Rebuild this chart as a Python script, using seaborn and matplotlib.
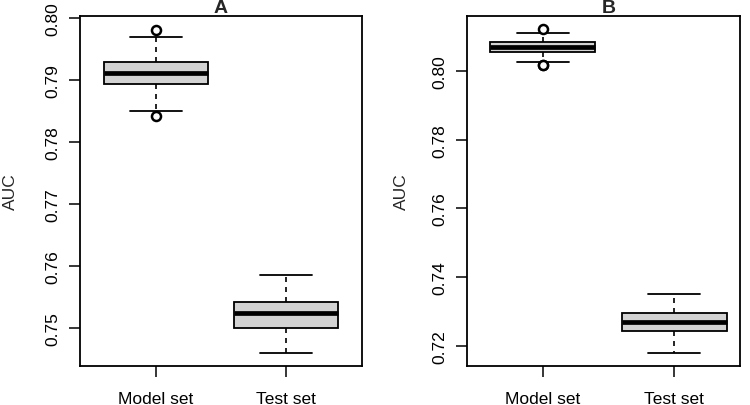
import matplotlib
matplotlib.use("Agg")
import matplotlib.pyplot as plt
import seaborn as sns
import pandas as pd
import numpy as np

# ---- data ----
categories = ["Model set", "Test set"]
# five-number summaries: lower whisker, Q1, median, Q3, upper whisker
a_model = [0.7850, 0.7894, 0.7912, 0.7929, 0.7970]
a_test = [0.7460, 0.7501, 0.7524, 0.7542, 0.7586]
b_model = [0.8025, 0.8056, 0.8071, 0.8084, 0.8111]
b_test = [0.7178, 0.7242, 0.7268, 0.7295, 0.7351]
# outliers
a_model_out = [0.7842, 0.7981]
a_test_out = []
b_model_out = [0.8016, 0.8018, 0.8121]
b_test_out = []

a_yticks = [0.75, 0.76, 0.77, 0.78, 0.79, 0.80]
b_yticks = [0.72, 0.74, 0.76, 0.78, 0.80]
titles = ["A", "B"]

sns.set_style("ticks")
plt.rcParams["font.family"] = ["Liberation Sans", "DejaVu Sans"]

fig = plt.figure(figsize=(7.5, 4.06), dpi=100)
W, H = 750, 406
axA = fig.add_axes([80 / W, 1 - 367 / H, (362 - 80) / W, (367 - 17) / H])
axB = fig.add_axes([467 / W, 1 - 367 / H, (740 - 467) / W, (367 - 17) / H])

panels = [
    (axA, a_model, a_test, a_model_out, a_test_out, a_yticks, (0.7439, 0.8004), (-0.581, 1.583), 0.5, 20),
    (axB, b_model, b_test, b_model_out, b_test_out, b_yticks, (0.7141, 0.8160), (-0.578, 1.502), 0.5176, 17),
]

for i, (ax, m, t, mo, to, yt, ylim, xlim, tx, lp) in enumerate(panels):
    box_df = pd.DataFrame({
        "set": [categories[0]] * len(m) + [categories[1]] * len(t),
        "AUC": m + t,
    })
    sns.boxplot(
        data=box_df, x="set", y="AUC", order=categories, ax=ax,
        whis=(0, 100), showfliers=False, width=0.8,
        color="#d3d3d3", saturation=1, linecolor="black", linewidth=1.3,
        medianprops=dict(linewidth=3.4, color="black"),
        whiskerprops=dict(linestyle=(0, (3, 3)), linewidth=1.2, color="black"),
        capprops=dict(linewidth=1.3, color="black"),
    )
    out_df = pd.DataFrame({
        "set": [categories[0]] * len(mo) + [categories[1]] * len(to),
        "AUC": mo + to,
    })
    n_before = len(ax.collections)
    sns.stripplot(
        data=out_df, x="set", y="AUC", order=categories, ax=ax,
        jitter=False, marker="o", size=6.5, color="black",
        linewidth=1.8, edgecolor="black", zorder=5,
    )
    for coll in ax.collections[n_before:]:
        coll.set_facecolor("white")
        coll.set_edgecolor("black")
        coll.set_linewidth(1.8)

    ax.set_xlim(*xlim)
    ax.set_ylim(*ylim)
    ax.set_yticks(yt)
    ax.set_yticklabels([f"{v:.2f}" for v in yt])
    ax.set_xlabel("")
    ax.set_ylabel("AUC", fontsize=12.5, labelpad=lp)
    ax.set_title(titles[i], fontsize=14, fontweight="bold", x=tx, pad=1.5)
    for s in ax.spines.values():
        s.set_visible(True)
        s.set_linewidth(1.3)
        s.set_color("black")
    ax.tick_params(axis="both", length=8, width=1.1, color="black",
                   labelsize=12.5, labelcolor="black", direction="out")
    ax.tick_params(axis="y", pad=6)
    ax.tick_params(axis="x", pad=10)
    plt.setp(ax.get_yticklabels(), rotation=90, va="center", ha="right")

fig.savefig("out.png", dpi=100)
